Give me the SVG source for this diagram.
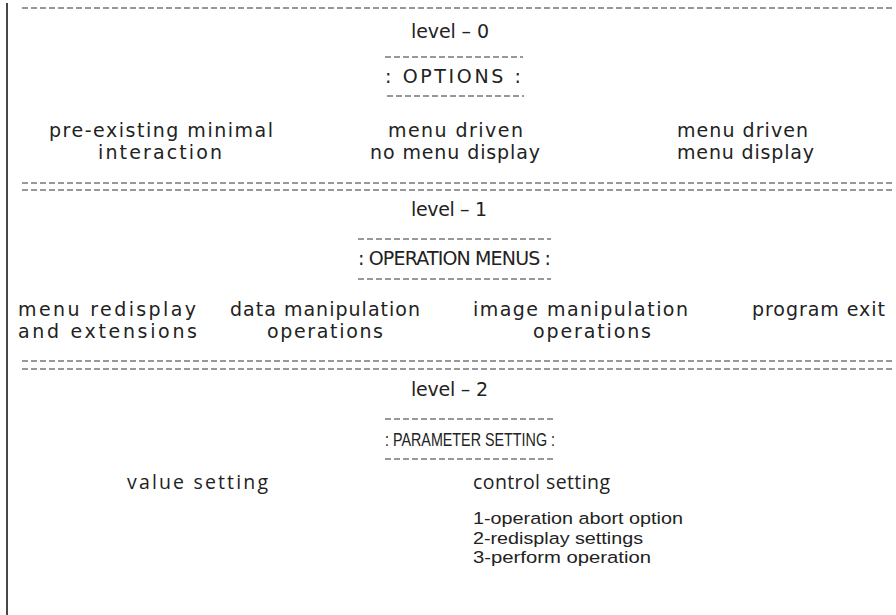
<svg xmlns="http://www.w3.org/2000/svg" width="896" height="615" viewBox="0 0 896 615">
<style>
.bg{fill:#ffffff}
.rule{stroke:#333333;stroke-width:1;stroke-dasharray:6 3;fill:none}
.frame{stroke:#1a1a1a;stroke-width:1.6;fill:none}
.t{font-family:"DejaVu Sans","Liberation Sans",sans-serif;font-size:19px;fill:#222222}
.h{font-family:"Liberation Sans",Arial,sans-serif;font-size:18.5px;fill:#222222}
.b{font-family:"Open Sans","Liberation Sans",sans-serif;font-size:19.5px;fill:#222222}
.s{font-family:"Liberation Sans",Arial,sans-serif;font-size:17.2px;fill:#222222}
</style>
<rect class="bg" x="0" y="0" width="896" height="615"/>
<g id="rules">
<line class="frame" x1="7" y1="3" x2="7" y2="615"/>
<line class="rule" x1="22" y1="8" x2="893" y2="8"/>
<line class="rule" x1="385" y1="57" x2="523" y2="57"/>
<line class="rule" x1="387" y1="96" x2="524" y2="96"/>
<line class="rule" x1="22" y1="183" x2="893" y2="183"/>
<line class="rule" x1="22" y1="190" x2="893" y2="190"/>
<line class="rule" x1="358" y1="239" x2="551" y2="239"/>
<line class="rule" x1="358" y1="279" x2="551" y2="279"/>
<line class="rule" x1="22" y1="361" x2="893" y2="361"/>
<line class="rule" x1="22" y1="369" x2="893" y2="369"/>
<line class="rule" x1="385" y1="419" x2="555" y2="419"/>
<line class="rule" x1="385" y1="459" x2="555" y2="459"/>
</g>
<g id="level0">
<text class="t" x="411" y="38" textLength="78" lengthAdjust="spacing">level – 0</text>
<text class="t" x="385" y="83" textLength="136" lengthAdjust="spacing">: OPTIONS :</text>
</g>
<g id="opt-preexisting">
<text class="t" x="49" y="137" textLength="224" lengthAdjust="spacing">pre-existing minimal</text>
<text class="t" x="98" y="159" textLength="124" lengthAdjust="spacing">interaction</text>
</g>
<g id="opt-nodisplay">
<text class="t" x="388" y="137" textLength="135" lengthAdjust="spacing">menu driven</text>
<text class="t" x="370" y="159" textLength="170" lengthAdjust="spacing">no menu display</text>
</g>
<g id="opt-display">
<text class="t" x="677" y="137" textLength="131" lengthAdjust="spacing">menu driven</text>
<text class="t" x="677" y="159" textLength="137" lengthAdjust="spacing">menu display</text>
</g>
<g id="level1">
<text class="t" x="411" y="216" textLength="76" lengthAdjust="spacing">level – 1</text>
<text class="t" x="358" y="265" textLength="193" lengthAdjust="spacing">: OPERATION MENUS :</text>
</g>
<g id="menu-redisplay">
<text class="t" x="18" y="316" textLength="178" lengthAdjust="spacing">menu redisplay</text>
<text class="t" x="18" y="338" textLength="179" lengthAdjust="spacing">and extensions</text>
</g>
<g id="data-manip">
<text class="t" x="230" y="316" textLength="190" lengthAdjust="spacing">data manipulation</text>
<text class="t" x="267" y="338" textLength="116" lengthAdjust="spacing">operations</text>
</g>
<g id="image-manip">
<text class="t" x="473" y="316" textLength="215" lengthAdjust="spacing">image manipulation</text>
<text class="t" x="533" y="338" textLength="118" lengthAdjust="spacing">operations</text>
</g>
<g id="program-exit">
<text class="t" x="752" y="316" textLength="133" lengthAdjust="spacing">program exit</text>
</g>
<g id="level2">
<text class="t" x="411" y="396" textLength="77" lengthAdjust="spacing">level – 2</text>
<text class="h" x="385" y="446" textLength="170" lengthAdjust="spacingAndGlyphs">: PARAMETER SETTING :</text>
</g>
<g id="value-setting">
<text class="b" x="127" y="489" textLength="141" lengthAdjust="spacing">value setting</text>
</g>
<g id="control-setting">
<text class="b" x="473" y="489" textLength="137" lengthAdjust="spacing">control setting</text>
<text class="s" x="473" y="524" textLength="210" lengthAdjust="spacingAndGlyphs">1-operation abort option</text>
<text class="s" x="473" y="543.5" textLength="170" lengthAdjust="spacingAndGlyphs">2-redisplay settings</text>
<text class="s" x="473" y="563" textLength="178" lengthAdjust="spacingAndGlyphs">3-perform operation</text>
</g>
</svg>
